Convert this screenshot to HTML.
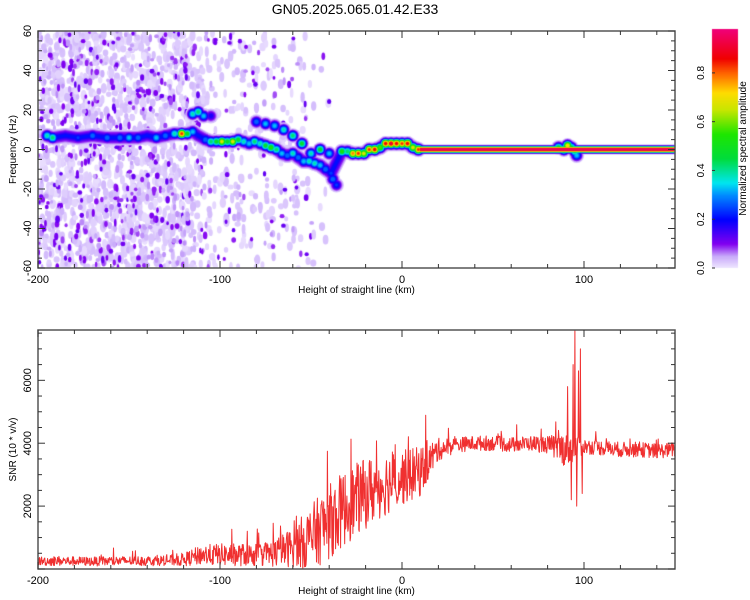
<!DOCTYPE html>
<html><head><meta charset="utf-8"><style>
body{margin:0;background:#fff;width:750px;height:600px;overflow:hidden;font-family:"Liberation Sans",sans-serif;}
#wrap{position:relative;width:750px;height:600px;}
canvas{position:absolute;left:0;top:0;}
svg{position:absolute;left:0;top:0;}
</style></head><body>
<div id="wrap">
<canvas id="heat" width="750" height="600"></canvas>
<svg id="svg" width="750" height="600"></svg>
</div>
<script>
// ---------- data ----------
const ridgeH = [-195,-192,-185,-178,-170,-162,-155,-150,-145,-140,-135,-130,-125,-121,-118,-115,-112,-108,-105,-102,-99,-96,-93,-90,-87,-84,-81,-78,-75,-72,-69,-66,-63,-60,-57,-54,-51,-48,-45,-42,-39,-33,-30,-27,-24,-21,-18,-15,-12,-9,-6,-3,0,3,6,9,
  -115,-112,-109,-105,-80,-75,-70,-65,-60,-55,-50,-45,-40,-38,-36,86,89,91,93,95,96];
const ridgeF = [7,6,7,6,7,6,6,6,6,7,6,7,8,8,8,9,7,5,4,4,4,4,4,5,4,3,4,3,2,1,0,-2,-3,-2,-4,-6,-6,-7,-8,-10,-12,-1,-1,-2,-2,-2,0,0,1,3,3,3,3,3,1,0,
  18,19,17,17,14,13,12,10,7,3,-2,0,-2,-15,-18,1,0,2,1,-1,-3];
const ridgeA = [0.4,0.45,0.2,0.25,0.3,0.3,0.3,0.35,0.3,0.2,0.35,0.3,0.4,0.85,0.5,0.35,0.2,0.3,0.45,0.5,0.7,0.5,0.7,0.5,0.4,0.35,0.45,0.4,0.5,0.55,0.45,0.35,0.3,0.4,0.3,0.35,0.4,0.4,0.35,0.3,0.25,0.55,0.45,0.8,0.85,0.7,0.85,0.9,0.6,0.9,0.95,0.9,0.85,0.9,0.7,0.85,
  0.4,0.45,0.35,0.2,0.3,0.35,0.35,0.4,0.45,0.5,0.4,0.5,0.35,0.3,0.25,0.5,0.6,0.75,0.5,0.45,0.35];
const mainRidgeCount = 56;
const lineStart = 10, lineEnd = 150, lineFreq = 0;
// background speckle density per 10 km bin from -200
const speckDensity = [14,16,16,15,15,16,15,14,12,5,4,4,4,3,3,1,0,0,0,0,0,0,0,0,0,0,0,0,0,0,0,0,0,0,0];
// SNR envelope every 10 km from -200 to 150
const snrH = [-200,-190,-180,-170,-160,-150,-140,-130,-120,-110,-100,-90,-80,-70,-60,-50,-40,-30,-20,-10,0,10,20,30,40,50,60,70,80,90,100,110,120,130,140,150];
const snrMean = [250,260,250,240,250,260,260,270,300,450,450,450,450,500,700,1000,1500,2000,2400,2700,2900,3100,3800,3950,4000,4000,3950,4000,3950,3800,3900,3850,3800,3800,3750,3800];
const snrSpread = [180,200,180,180,200,180,200,200,260,400,450,450,450,550,800,1300,1500,1500,1400,1300,1100,1000,450,300,300,300,300,300,350,700,300,300,300,300,300,300];
const spikeH = [91,93,94,95,96,97,98,99];
const spikeV = [5800,2200,6500,7600,2000,6300,7000,2400];
const xTicks = [-200,-100,0,100];
const fTicks = [-60,-40,-20,0,20,40,60];
const snrTicks = [2000,4000,6000];
const cbTicks = [0.0,0.2,0.4,0.6,0.8];

// ---------- scales ----------
const X0=38,X1=675,TY0=31,TY1=268,BY0=330,BY1=569;
const xs=h=>X0+(h+200)/350*(X1-X0);
const ys=f=>TY0+(60-f)/120*(TY1-TY0);
const yb=v=>BY1-v/7600*(BY1-BY0);
const CBX=712,CBW=26,CBY0=29,CBY1=268;
const cy=a=>CBY1-a/0.98*(CBY1-CBY0);

let seed=12345;const rnd=()=>{seed=(seed*1103515245+12345)%2147483648;return seed/2147483648;};

const stops=[[0,[240,232,255]],[0.05,[200,170,250]],[0.1,[130,0,240]],[0.2,[0,0,255]],[0.3,[0,140,255]],[0.35,[0,230,240]],[0.45,[0,220,60]],[0.55,[30,230,0]],[0.65,[200,230,0]],[0.72,[255,220,0]],[0.8,[255,100,0]],[0.86,[240,0,0]],[1,[240,0,140]]];
function cmap(a){for(let i=1;i<stops.length;i++){if(a<=stops[i][0]){const[t0,c0]=stops[i-1],[t1,c1]=stops[i];const t=(a-t0)/(t1-t0);return `rgb(${c0.map((c,k)=>Math.round(c+(c1[k]-c)*t)).join(',')})`;}}return 'rgb(240,0,140)';}

// ---------- heatmap ----------
const cv=document.getElementById('heat'),ctx=cv.getContext('2d');
ctx.save();ctx.beginPath();ctx.rect(X0,TY0,X1-X0,TY1-TY0);ctx.clip();
// speckle: light layer then darker dots
speckDensity.forEach((d,i)=>{
  for(let k=0;k<d*10;k++){
    const h=-200+i*10+rnd()*10,f=-60+rnd()*120;
    ctx.fillStyle=cmap(0.008+rnd()*0.03);
    ctx.beginPath();ctx.ellipse(xs(h),ys(f),1.8+rnd()*1.5,2.5+rnd()*3,0,0,7);ctx.fill();
  }
  for(let k=0;k<d*4;k++){
    const h=-200+i*10+rnd()*10,f=-60+rnd()*120;
    const r=rnd();
    ctx.fillStyle=cmap(r<0.55?0.075+rnd()*0.05:0.04+rnd()*0.02);
    ctx.beginPath();ctx.ellipse(xs(h),ys(f),1.3+rnd()*1.2,1.8+rnd()*2.2,0,0,7);ctx.fill();
  }
});
// ridge by level
function ridgePath(){ctx.beginPath();for(let i=0;i<mainRidgeCount;i++){const x=xs(ridgeH[i]),y=ys(ridgeF[i]);i?ctx.lineTo(x,y):ctx.moveTo(x,y);}}
for(let l=0.03;l<=1;l+=0.03){
  ctx.fillStyle=cmap(l);ctx.strokeStyle=cmap(l);
  if(l<0.22){ctx.lineWidth=(0.22-l)*70+2;ctx.lineJoin='round';ctx.lineCap='round';ridgePath();ctx.stroke();}
  for(let i=0;i<ridgeH.length;i++){
    const a=ridgeA[i];if(a<l)continue;
    const s=Math.sqrt(Math.log(a/l)/Math.log(a/0.03));
    ctx.beginPath();ctx.ellipse(xs(ridgeH[i]),ys(ridgeF[i]),7*s+0.5,7*s+0.5,0,0,7);ctx.fill();
  }
  if(l<=0.98){
    const half=4.5*Math.sqrt(Math.log(0.98/l)/Math.log(0.98/0.03))+0.5;
    ctx.fillRect(xs(lineStart),ys(lineFreq)-half,xs(lineEnd)-xs(lineStart),half*2);
  }
}
ctx.restore();
// colorbar
for(let y=CBY0;y<CBY1;y++){ctx.fillStyle=cmap((CBY1-y)/(CBY1-CBY0)*0.98);ctx.fillRect(CBX,y,CBW,1);}

// ---------- SNR line ----------
const pts=[];
for(let h=-200;h<=150;h+=0.25){
  const i=Math.min(snrH.length-2,Math.floor((h+200)/10));const t=(h-snrH[i])/10;
  const m=snrMean[i]+(snrMean[i+1]-snrMean[i])*t,s=snrSpread[i]+(snrSpread[i+1]-snrSpread[i])*t;
  let v=m+(rnd()-0.5)*s*1.6;if(rnd()<0.06)v+=s*(rnd()*1.4);
  const j=spikeH.findIndex(x=>Math.abs(x-h)<0.13);if(j>=0)v=spikeV[j];
  v=Math.max(20,Math.min(7600,v));pts.push(xs(h).toFixed(1)+','+yb(v).toFixed(1));
}

// ---------- svg ----------
const NS='http://www.w3.org/2000/svg',svg=document.getElementById('svg');
function el(t,at,txt){const e=document.createElementNS(NS,t);for(const k in at)e.setAttribute(k,at[k]);if(txt!==undefined)e.textContent=txt;svg.appendChild(e);return e;}
const line=el('polyline',{points:pts.join(' '),fill:'none',stroke:'#f03030','stroke-width':1,'stroke-linejoin':'round'});


function frame(y0,y1,name){const r=el('rect',{x:X0,y:y0,width:X1-X0,height:y1-y0,fill:'none',stroke:'#555','stroke-width':1.5});}
frame(TY0,TY1,'spectrogram-frame');frame(BY0,BY1,'snr-frame');
function tk(x1,y1,x2,y2){el('line',{x1,y1,x2,y2,stroke:'#333','stroke-width':1});}
[[TY0,TY1],[BY0,BY1]].forEach(([a,b])=>{
  for(let h=-200;h<=150;h+=20){const x=xs(h),L=h%100===0?7:4;tk(x,b,x,b-L);tk(x,a,x,a+L);}
  xTicks.forEach(h=>{const t=el('text',{x:xs(h),y:b+15,'font-size':11,'text-anchor':'middle',fill:'#000'},h);});
  const t=el('text',{x:(X0+X1)/2,y:b+25,'font-size':10,'text-anchor':'middle'},'Height of straight line (km)');
});
for(let f=-60;f<=60;f+=5){const y=ys(f),L=f%20===0?7:4;tk(X0,y,X0+L,y);tk(X1,y,X1-L,y);}
fTicks.forEach(f=>{const t=el('text',{x:0,y:0,'font-size':11,'text-anchor':'middle',transform:`translate(31,${ys(f)}) rotate(-90)`},f);});
for(let v=0;v<=7500;v+=500){const y=yb(v),L=v%2000===0?7:4;tk(X0,y,X0+L,y);tk(X1,y,X1-L,y);}
snrTicks.forEach(v=>{const t=el('text',{x:0,y:0,'font-size':11,'text-anchor':'middle',transform:`translate(31,${yb(v)}) rotate(-90)`},v);});
let t=el('text',{x:0,y:0,'font-size':10,'text-anchor':'middle',transform:`translate(16,${(TY0+TY1)/2}) rotate(-90)`},'Frequency (Hz)');
t=el('text',{x:0,y:0,'font-size':10,'text-anchor':'middle',transform:`translate(16,${(BY0+BY1)/2}) rotate(-90)`},'SNR (10 * v/v)');
t=el('text',{x:355,y:14,'font-size':14,'text-anchor':'middle'},'GN05.2025.065.01.42.E33');
cbTicks.forEach(a=>{const t=el('text',{x:0,y:0,'font-size':10,'text-anchor':'middle',transform:`translate(704,${cy(a)}) rotate(-90)`},a.toFixed(1));tk(CBX,cy(a),CBX+3,cy(a));});
t=el('text',{x:0,y:0,'font-size':10,'text-anchor':'middle',transform:`translate(746,${(CBY0+CBY1)/2}) rotate(-90)`},'Normalized spectral amplitude');
</script>
</body></html>
